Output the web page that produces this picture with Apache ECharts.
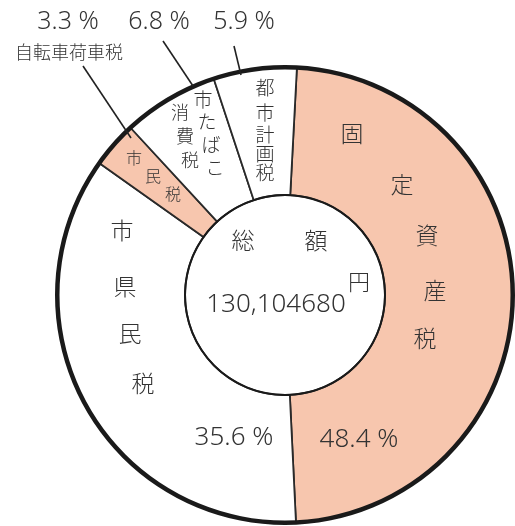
<!DOCTYPE html>
<html><head><meta charset="utf-8">
<script src="https://cdn.jsdelivr.net/npm/echarts@6/dist/echarts.min.js"></script>
<style>html,body{margin:0;padding:0;background:#fff}#c{width:515px;height:526px}</style>
</head><body><div id="c"></div>
<script>
// ---- data ----
const categories = ['固定資産税', '市県民税', '市民税', '市たばこ消費税', '都市計画税'];
const values = [48.4, 35.6, 3.3, 6.8, 5.9];
const sliceColors = ['#f7c6ae', '#ffffff', '#f7c6ae', '#ffffff', '#ffffff'];
const totalLabel = ['総', '額', '円'];
const totalAmount = '130,104680';
const outsideName = '自転車荷車税';

const FONT = '"Noto Sans CJK JP", "Noto Sans", sans-serif';
const NUMFONT = '"Noto Sans", "DejaVu Sans", sans-serif';
const CX = 285, CY = 295, R0 = 100, R1 = 228;
const INK = '#333';

function pct(v) { return v.toFixed(1) + ' %'; }

const chart = echarts.init(document.getElementById('c'), null, {renderer: 'canvas'});

function txt(t, x, y, size, font) {
  return {
    type: 'text', x: x, y: y, z: 100,
    style: {text: t, fontSize: size, fontFamily: font || FONT, fill: INK,
            align: 'center', verticalAlign: 'middle', fontWeight: 300}
  };
}
function vchars(str, pts, size) {
  return str.split('').map((ch, i) => txt(ch, pts[i][0], pts[i][1], size));
}
function line(x1, y1, x2, y2, w) {
  return {type: 'line', z: 90, shape: {x1, y1, x2, y2}, style: {stroke: '#222', lineWidth: w || 1.6}};
}

const graphics = [
  // top percentages
  txt(pct(values[2]), 68, 22, 25, NUMFONT),
  txt(pct(values[3]), 159, 22, 25, NUMFONT),
  txt(pct(values[4]), 244, 22, 25, NUMFONT),
  txt(outsideName, 69, 52, 18),
  line(83, 66, 131, 138),
  line(163, 41, 193, 86),
  line(234, 46, 241, 75),
  // centre
  txt(totalLabel[0], 243, 240, 23),
  txt(totalLabel[1], 316, 240, 23),
  txt(totalLabel[2], 359, 282, 22),
  txt(totalAmount, 276, 305, 26, NUMFONT),
  // slice percentages
  txt(pct(values[1]), 234, 438, 26, NUMFONT),
  txt(pct(values[0]), 359, 440, 26, NUMFONT)
]
.concat(vchars('固定資産税', [[352,133],[402,184],[427,235],[435,290],[425,338]], 23))
.concat(vchars('市県民税', [[122,230],[125,286],[130,333],[143,383]], 23))
.concat(vchars('市民税', [[134,158],[153,176],[173,194]], 16))
.concat(vchars('消費税', [[180,112],[185,136],[190,160]], 18))
.concat(vchars('市たばこ', [[203,100],[207,122],[211,145],[215,168]], 19))
.concat(vchars('都市計画税', [[265,88],[265,113],[265,135],[265,154],[265,173]], 19));

chart.setOption({
  backgroundColor: '#ffffff',
  animation: false,
  series: [
    {
      type: 'pie', center: [CX, CY], radius: [R0, R1], startAngle: 87, clockwise: true,
      silent: true, label: {show: false}, labelLine: {show: false},
      itemStyle: {borderColor: '#2a2a2a', borderWidth: 1.8},
      data: categories.map((c, i) => ({name: c, value: values[i], itemStyle: {color: sliceColors[i]}}))
    },
    {
      type: 'pie', center: [CX, CY], radius: [R1 - 2.5, R1 + 2], silent: true,
      label: {show: false}, labelLine: {show: false},
      itemStyle: {color: '#1a1a1a'}, data: [{value: 1, name: 'outer'}]
    },
    {
      type: 'pie', center: [CX, CY], radius: [R0 - 1, R0 + 1], silent: true,
      label: {show: false}, labelLine: {show: false},
      itemStyle: {color: '#1a1a1a'}, data: [{value: 1, name: 'inner'}]
    }
  ],
  graphic: graphics
});
</script>
</body></html>
